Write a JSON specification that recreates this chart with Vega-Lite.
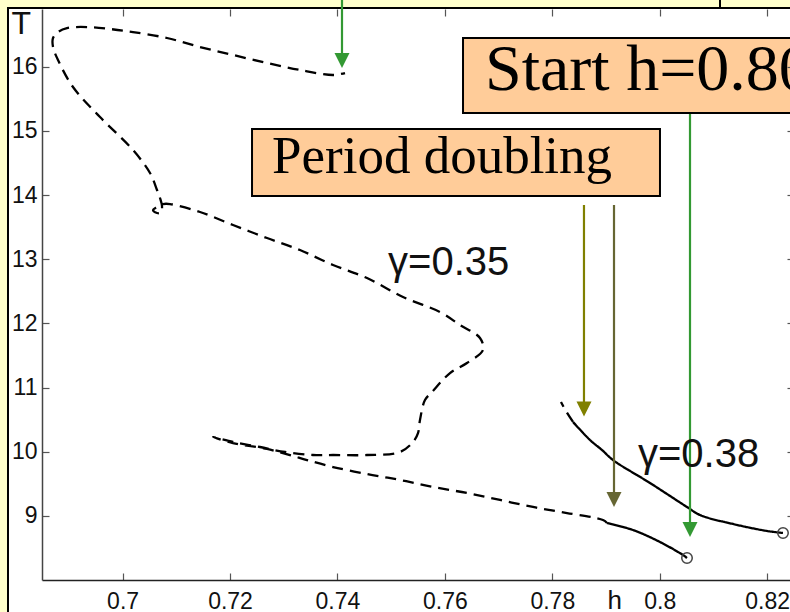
{
  "$schema": "https://vega.github.io/schema/vega-lite/v6.json",
  "width": 752,
  "height": 571,
  "autosize": {"type": "none"},
  "padding": {"left": 42, "top": 9, "right": 0, "bottom": 32},
  "background": "#FFFFCC",
  "config": {"view": {"stroke": null}},
  "datasets": {
    "frame": [{"h": 0.67867, "h2": 0.84, "T": 16.915, "T2": 7.0}],
    "divider": [{"h": 0.81122, "T": 17.3, "T2": 16.915}],
    "curves": [
      {"seg": "g35s", "stab": "stable", "i": 1, "h": 0.80508, "T": 8.343},
      {"seg": "g35s", "stab": "stable", "i": 2, "h": 0.80433, "T": 8.390},
      {"seg": "g35s", "stab": "stable", "i": 3, "h": 0.80005, "T": 8.592},
      {"seg": "g35s", "stab": "stable", "i": 4, "h": 0.79503, "T": 8.779},
      {"seg": "g35s", "stab": "stable", "i": 5, "h": 0.79019, "T": 8.888},
      {"seg": "g35u", "stab": "unstable", "i": 1, "h": 0.79019, "T": 8.888},
      {"seg": "g35u", "stab": "unstable", "i": 2, "h": 0.78944, "T": 8.935},
      {"seg": "g35u", "stab": "unstable", "i": 3, "h": 0.78274, "T": 9.044},
      {"seg": "g35u", "stab": "unstable", "i": 4, "h": 0.77641, "T": 9.138},
      {"seg": "g35u", "stab": "unstable", "i": 5, "h": 0.77027, "T": 9.247},
      {"seg": "g35u", "stab": "unstable", "i": 6, "h": 0.76412, "T": 9.356},
      {"seg": "g35u", "stab": "unstable", "i": 7, "h": 0.75779, "T": 9.450},
      {"seg": "g35u", "stab": "unstable", "i": 8, "h": 0.75165, "T": 9.559},
      {"seg": "g35u", "stab": "unstable", "i": 9, "h": 0.74551, "T": 9.652},
      {"seg": "g35u", "stab": "unstable", "i": 10, "h": 0.73918, "T": 9.761},
      {"seg": "g35u", "stab": "unstable", "i": 11, "h": 0.73434, "T": 9.870},
      {"seg": "g35u", "stab": "unstable", "i": 12, "h": 0.73117, "T": 9.948},
      {"seg": "g35u", "stab": "unstable", "i": 13, "h": 0.72689, "T": 10.042},
      {"seg": "g35u", "stab": "unstable", "i": 14, "h": 0.72056, "T": 10.135},
      {"seg": "g35u", "stab": "unstable", "i": 15, "h": 0.71684, "T": 10.229},
      {"seg": "g35u", "stab": "unstable", "i": 16, "h": 0.72056, "T": 10.151},
      {"seg": "g35u", "stab": "unstable", "i": 17, "h": 0.72558, "T": 10.073},
      {"seg": "g35u", "stab": "unstable", "i": 18, "h": 0.73024, "T": 9.995},
      {"seg": "g35u", "stab": "unstable", "i": 19, "h": 0.73545, "T": 9.948},
      {"seg": "g35u", "stab": "unstable", "i": 20, "h": 0.73918, "T": 9.948},
      {"seg": "g35u", "stab": "unstable", "i": 21, "h": 0.74551, "T": 9.948},
      {"seg": "g35u", "stab": "unstable", "i": 22, "h": 0.75165, "T": 9.995},
      {"seg": "g35u", "stab": "unstable", "i": 23, "h": 0.75407, "T": 10.151},
      {"seg": "g35u", "stab": "unstable", "i": 24, "h": 0.75500, "T": 10.291},
      {"seg": "g35u", "stab": "unstable", "i": 25, "h": 0.75537, "T": 10.494},
      {"seg": "g35u", "stab": "unstable", "i": 26, "h": 0.75630, "T": 10.806},
      {"seg": "g35u", "stab": "unstable", "i": 27, "h": 0.75761, "T": 10.930},
      {"seg": "g35u", "stab": "unstable", "i": 28, "h": 0.76096, "T": 11.226},
      {"seg": "g35u", "stab": "unstable", "i": 29, "h": 0.76412, "T": 11.382},
      {"seg": "g35u", "stab": "unstable", "i": 30, "h": 0.76710, "T": 11.585},
      {"seg": "g35u", "stab": "unstable", "i": 31, "h": 0.76654, "T": 11.772},
      {"seg": "g35u", "stab": "unstable", "i": 32, "h": 0.76282, "T": 11.974},
      {"seg": "g35u", "stab": "unstable", "i": 33, "h": 0.75910, "T": 12.177},
      {"seg": "g35u", "stab": "unstable", "i": 34, "h": 0.75221, "T": 12.411},
      {"seg": "g35u", "stab": "unstable", "i": 35, "h": 0.74551, "T": 12.707},
      {"seg": "g35u", "stab": "unstable", "i": 36, "h": 0.73918, "T": 12.910},
      {"seg": "g35u", "stab": "unstable", "i": 37, "h": 0.73303, "T": 13.143},
      {"seg": "g35u", "stab": "unstable", "i": 38, "h": 0.72689, "T": 13.330},
      {"seg": "g35u", "stab": "unstable", "i": 39, "h": 0.72056, "T": 13.533},
      {"seg": "g35u", "stab": "unstable", "i": 40, "h": 0.71442, "T": 13.736},
      {"seg": "g35u", "stab": "unstable", "i": 41, "h": 0.70883, "T": 13.860},
      {"seg": "g35u", "stab": "unstable", "i": 42, "h": 0.70753, "T": 13.860},
      {"seg": "g35u", "stab": "unstable", "i": 43, "h": 0.70641, "T": 13.814},
      {"seg": "g35u", "stab": "unstable", "i": 44, "h": 0.70567, "T": 13.767},
      {"seg": "g35u", "stab": "unstable", "i": 45, "h": 0.70641, "T": 13.720},
      {"seg": "g35u", "stab": "unstable", "i": 46, "h": 0.70715, "T": 13.720},
      {"seg": "g35u", "stab": "unstable", "i": 47, "h": 0.70734, "T": 13.829},
      {"seg": "g35u", "stab": "unstable", "i": 48, "h": 0.70697, "T": 13.954},
      {"seg": "g35u", "stab": "unstable", "i": 49, "h": 0.70641, "T": 14.079},
      {"seg": "g35u", "stab": "unstable", "i": 50, "h": 0.70511, "T": 14.344},
      {"seg": "g35u", "stab": "unstable", "i": 51, "h": 0.70194, "T": 14.702},
      {"seg": "g35u", "stab": "unstable", "i": 52, "h": 0.69580, "T": 15.216},
      {"seg": "g35u", "stab": "unstable", "i": 53, "h": 0.69077, "T": 15.684},
      {"seg": "g35u", "stab": "unstable", "i": 54, "h": 0.68798, "T": 16.105},
      {"seg": "g35u", "stab": "unstable", "i": 55, "h": 0.68705, "T": 16.307},
      {"seg": "g35u", "stab": "unstable", "i": 56, "h": 0.68705, "T": 16.448},
      {"seg": "g35u", "stab": "unstable", "i": 57, "h": 0.68798, "T": 16.541},
      {"seg": "g35u", "stab": "unstable", "i": 58, "h": 0.68965, "T": 16.603},
      {"seg": "g35u", "stab": "unstable", "i": 59, "h": 0.69338, "T": 16.619},
      {"seg": "g35u", "stab": "unstable", "i": 60, "h": 0.69766, "T": 16.588},
      {"seg": "g35u", "stab": "unstable", "i": 61, "h": 0.70194, "T": 16.541},
      {"seg": "g35u", "stab": "unstable", "i": 62, "h": 0.70827, "T": 16.448},
      {"seg": "g35u", "stab": "unstable", "i": 63, "h": 0.71442, "T": 16.307},
      {"seg": "g35u", "stab": "unstable", "i": 64, "h": 0.72056, "T": 16.183},
      {"seg": "g35u", "stab": "unstable", "i": 65, "h": 0.72689, "T": 16.058},
      {"seg": "g35u", "stab": "unstable", "i": 66, "h": 0.73303, "T": 15.949},
      {"seg": "g35u", "stab": "unstable", "i": 67, "h": 0.73918, "T": 15.871},
      {"seg": "g35u", "stab": "unstable", "i": 68, "h": 0.74141, "T": 15.902},
      {"seg": "g38s", "stab": "stable", "i": 1, "h": 0.82295, "T": 8.733},
      {"seg": "g38s", "stab": "stable", "i": 2, "h": 0.81997, "T": 8.764},
      {"seg": "g38s", "stab": "stable", "i": 3, "h": 0.81364, "T": 8.873},
      {"seg": "g38s", "stab": "stable", "i": 4, "h": 0.80750, "T": 9.013},
      {"seg": "g38s", "stab": "stable", "i": 5, "h": 0.80508, "T": 9.138},
      {"seg": "g38s", "stab": "stable", "i": 6, "h": 0.79819, "T": 9.512},
      {"seg": "g38s", "stab": "stable", "i": 7, "h": 0.79130, "T": 9.870},
      {"seg": "g38s", "stab": "stable", "i": 8, "h": 0.78926, "T": 10.026},
      {"seg": "g38s", "stab": "stable", "i": 9, "h": 0.78702, "T": 10.182},
      {"seg": "g38s", "stab": "stable", "i": 10, "h": 0.78386, "T": 10.463},
      {"seg": "g38u", "stab": "unstable", "i": 1, "h": 0.78386, "T": 10.463},
      {"seg": "g38u", "stab": "unstable", "i": 2, "h": 0.78255, "T": 10.634},
      {"seg": "g38u", "stab": "unstable", "i": 3, "h": 0.78162, "T": 10.774}
    ],
    "endpoints": [
      {"curve": "γ=0.35", "h": 0.80508, "T": 8.343},
      {"curve": "γ=0.38", "h": 0.82295, "T": 8.733}
    ],
    "arrows": [
      {"arrow": "top", "h": 0.74085, "T": 17.3, "T2": 16.167},
      {"arrow": "start", "h": 0.80564, "T": 15.279, "T2": 8.857},
      {"arrow": "pd1", "h": 0.78590, "T": 13.845, "T2": 10.743},
      {"arrow": "pd2", "h": 0.79149, "T": 13.845, "T2": 9.325}
    ],
    "heads": [
      {"arrow": "top", "h": 0.74085, "T": 16.097},
      {"arrow": "start", "h": 0.80564, "T": 8.787},
      {"arrow": "pd1", "h": 0.78590, "T": 10.665},
      {"arrow": "pd2", "h": 0.79149, "T": 9.255}
    ],
    "boxes": [
      {"box": "start", "h": 0.76338, "h2": 0.84, "T": 16.448, "T2": 15.279},
      {"box": "pd", "h": 0.72410, "h2": 0.80005, "T": 15.029, "T2": 13.985}
    ],
    "notes": [
      {"box": "start", "text": "Start h=0.80", "h": 0.76747, "T": 15.637},
      {"box": "pd", "text": "Period doubling", "h": 0.72782, "T": 14.344}
    ],
    "gammas": [
      {"text": "γ=0.35", "h": 0.74942, "T": 12.754},
      {"text": "γ=0.38", "h": 0.79596, "T": 9.761}
    ]
  },
  "resolve": {"axis": {"x": "independent", "y": "independent"}},
  "layer": [
    {
      "data": {"name": "frame"},
      "mark": {"type": "rect", "fill": "white", "stroke": "black", "strokeWidth": 2},
      "encoding": {
        "x": {"field": "h", "type": "quantitative",
          "scale": {"domain": [0.685, 0.825], "nice": false, "zero": false},
          "axis": {"orient": "bottom", "values": [0.7, 0.72, 0.74, 0.76, 0.78, 0.8, 0.82], "format": ".2~f",
            "labelFont": "Liberation Sans", "labelFontSize": 23, "labelColor": "#111", "labelPadding": 17,
            "labelFlush": false, "labelOverlap": false, "labelBound": false,
            "tickSize": -7, "tickColor": "#555", "tickWidth": 1.2,
            "domainColor": "#222", "domainWidth": 1.5, "grid": false,
            "title": "h", "titleFont": "Liberation Sans", "titleFontSize": 26, "titleFontWeight": "normal", "titleColor": "#111",
            "titleX": 565, "titleY": 28, "titleAlign": "left", "titleBaseline": "alphabetic", "zindex": 1}},
        "x2": {"field": "h2"},
        "y": {"field": "T", "type": "quantitative",
          "scale": {"domain": [8, 16.9], "nice": false, "zero": false},
          "axis": {"orient": "left", "values": [9, 10, 11, 12, 13, 14, 15, 16],
            "labelFont": "Liberation Sans", "labelFontSize": 23, "labelColor": "#111", "labelPadding": 12,
            "labelFlush": false, "labelOverlap": false, "labelBound": false,
            "tickSize": -7, "tickColor": "#555", "tickWidth": 1.2,
            "domainColor": "#444", "domainWidth": 1.5, "grid": false,
            "title": "T", "titleFont": "Liberation Sans", "titleFontSize": 32, "titleFontWeight": "normal", "titleColor": "#111",
            "titleAngle": 0, "titleX": -31, "titleY": 24, "titleAlign": "left", "titleBaseline": "alphabetic", "zindex": 1}},
        "y2": {"field": "T2"}
      }
    },
    {
      "data": {"name": "divider"},
      "mark": {"type": "rule", "color": "black", "strokeWidth": 2},
      "encoding": {
        "x": {"field": "h", "type": "quantitative", "scale": {"domain": [0.685, 0.825], "nice": false, "zero": false}, "axis": null},
        "y": {"field": "T", "type": "quantitative", "scale": {"domain": [8, 16.9], "nice": false, "zero": false}, "axis": null},
        "y2": {"field": "T2"}
      }
    },
    {
      "data": {"name": "curves"},
      "mark": {"type": "line", "color": "black", "strokeWidth": 2.3, "interpolate": "catmull-rom"},
      "encoding": {
        "x": {"field": "h", "type": "quantitative",
          "scale": {"domain": [0.685, 0.825], "nice": false, "zero": false},
          "axis": {"orient": "top", "values": [0.7, 0.72, 0.74, 0.76, 0.78, 0.8, 0.82], "labels": false, "domain": false,
            "tickSize": -7, "tickColor": "#555", "tickWidth": 1.2, "grid": false, "title": null, "zindex": 1}},
        "y": {"field": "T", "type": "quantitative",
          "scale": {"domain": [8, 16.9], "nice": false, "zero": false},
          "axis": {"orient": "right", "values": [9, 10, 11, 12, 13, 14, 15, 16], "labels": false, "domain": false,
            "tickSize": -7, "tickColor": "#555", "tickWidth": 1.2, "grid": false, "title": null, "zindex": 1}},
        "detail": {"field": "seg"},
        "order": {"field": "i", "type": "quantitative"},
        "strokeDash": {"field": "stab", "type": "nominal",
          "scale": {"domain": ["stable", "unstable"], "range": [[1, 0], [11, 7]]}, "legend": null}
      }
    },
    {
      "data": {"name": "endpoints"},
      "mark": {"type": "point", "shape": "circle", "filled": false, "size": 110, "stroke": "#444", "strokeWidth": 1.5, "opacity": 1},
      "encoding": {
        "x": {"field": "h", "type": "quantitative", "scale": {"domain": [0.685, 0.825], "nice": false, "zero": false}, "axis": null},
        "y": {"field": "T", "type": "quantitative", "scale": {"domain": [8, 16.9], "nice": false, "zero": false}, "axis": null}
      }
    },
    {
      "data": {"name": "arrows"},
      "mark": {"type": "rule", "strokeWidth": 2.2},
      "encoding": {
        "x": {"field": "h", "type": "quantitative", "scale": {"domain": [0.685, 0.825], "nice": false, "zero": false}, "axis": null},
        "y": {"field": "T", "type": "quantitative", "scale": {"domain": [8, 16.9], "nice": false, "zero": false}, "axis": null},
        "y2": {"field": "T2"},
        "color": {"field": "arrow", "type": "nominal",
          "scale": {"domain": ["top", "start", "pd1", "pd2"], "range": ["#339933", "#339933", "#808000", "#666633"]}, "legend": null}
      }
    },
    {
      "data": {"name": "heads"},
      "mark": {"type": "point", "shape": "M-1,-1L1,-1L0,1Z", "filled": true, "size": 225, "opacity": 1, "strokeWidth": 0},
      "encoding": {
        "x": {"field": "h", "type": "quantitative", "scale": {"domain": [0.685, 0.825], "nice": false, "zero": false}, "axis": null},
        "y": {"field": "T", "type": "quantitative", "scale": {"domain": [8, 16.9], "nice": false, "zero": false}, "axis": null},
        "color": {"field": "arrow", "type": "nominal",
          "scale": {"domain": ["top", "start", "pd1", "pd2"], "range": ["#339933", "#339933", "#808000", "#666633"]}, "legend": null}
      }
    },
    {
      "data": {"name": "boxes"},
      "mark": {"type": "rect", "fill": "#FFCC99", "stroke": "black", "strokeWidth": 2},
      "encoding": {
        "x": {"field": "h", "type": "quantitative", "scale": {"domain": [0.685, 0.825], "nice": false, "zero": false}, "axis": null},
        "x2": {"field": "h2"},
        "y": {"field": "T", "type": "quantitative", "scale": {"domain": [8, 16.9], "nice": false, "zero": false}, "axis": null},
        "y2": {"field": "T2"}
      }
    },
    {
      "data": {"name": "notes"},
      "transform": [{"filter": "datum.box === 'start'"}],
      "mark": {"type": "text", "font": "Liberation Serif", "fontSize": 66, "align": "left", "baseline": "alphabetic", "color": "black"},
      "encoding": {
        "x": {"field": "h", "type": "quantitative", "scale": {"domain": [0.685, 0.825], "nice": false, "zero": false}, "axis": null},
        "y": {"field": "T", "type": "quantitative", "scale": {"domain": [8, 16.9], "nice": false, "zero": false}, "axis": null},
        "text": {"field": "text"}
      }
    },
    {
      "data": {"name": "notes"},
      "transform": [{"filter": "datum.box === 'pd'"}],
      "mark": {"type": "text", "font": "Liberation Serif", "fontSize": 53, "align": "left", "baseline": "alphabetic", "color": "black"},
      "encoding": {
        "x": {"field": "h", "type": "quantitative", "scale": {"domain": [0.685, 0.825], "nice": false, "zero": false}, "axis": null},
        "y": {"field": "T", "type": "quantitative", "scale": {"domain": [8, 16.9], "nice": false, "zero": false}, "axis": null},
        "text": {"field": "text"}
      }
    },
    {
      "data": {"name": "gammas"},
      "mark": {"type": "text", "font": "Liberation Sans", "fontSize": 40, "align": "left", "baseline": "alphabetic", "color": "#111"},
      "encoding": {
        "x": {"field": "h", "type": "quantitative", "scale": {"domain": [0.685, 0.825], "nice": false, "zero": false}, "axis": null},
        "y": {"field": "T", "type": "quantitative", "scale": {"domain": [8, 16.9], "nice": false, "zero": false}, "axis": null},
        "text": {"field": "text"}
      }
    }
  ]
}
